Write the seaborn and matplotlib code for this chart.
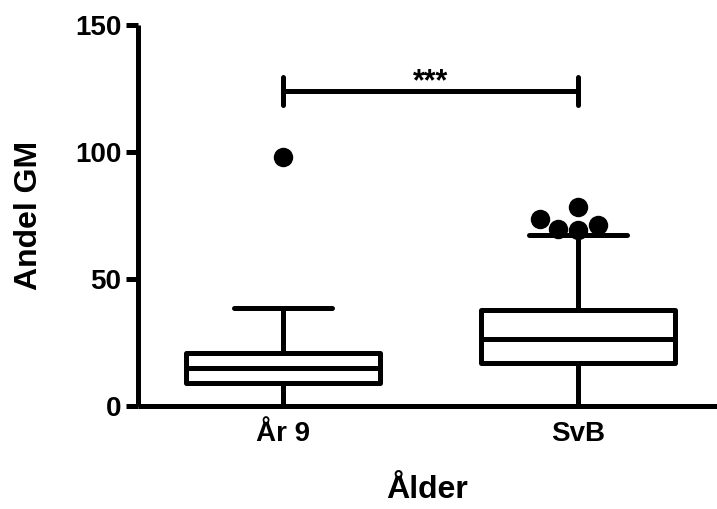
import numpy as np
import pandas as pd
import matplotlib
matplotlib.use("Agg")
import matplotlib.pyplot as plt
import seaborn as sns

# ---- data ----
categories = ["År 9", "SvB"]
ar9_values = [0, 4, 7, 9, 11, 13, 15, 17, 19, 21, 28, 38.6, 98]
svb_values = [0, 3, 6, 9, 12, 15, 17, 19, 20.5, 22, 23.5, 25, 26.5, 28, 30,
              32, 34, 36, 37.8, 67.5, 69.3, 69.6, 71.3, 73.6, 78.3]
y_ticks = [0, 50, 100, 150]
x_label = "Ålder"
y_label = "Andel GM"
sig_text = "***"
sig_level = 124

sns.set_theme(style="white")
plt.rcParams["font.family"] = ["Liberation Sans", "DejaVu Sans"]
plt.rcParams["font.weight"] = "bold"
plt.rcParams["text.color"] = "black"
plt.rcParams["axes.labelcolor"] = "black"
plt.rcParams["xtick.color"] = "black"
plt.rcParams["ytick.color"] = "black"

df = pd.DataFrame({
    "group": [categories[0]] * len(ar9_values) + [categories[1]] * len(svb_values),
    "value": ar9_values + svb_values,
})

# outliers via Tukey rule
def is_outlier(vals):
    v = np.asarray(vals, float)
    q1, q3 = np.percentile(v, [25, 75])
    iqr = q3 - q1
    return (v > q3 + 1.5 * iqr) | (v < q1 - 1.5 * iqr)

mask = np.concatenate([is_outlier(ar9_values), is_outlier(svb_values)])
df_out = df[mask]

fig = plt.figure(figsize=(7.17, 5.09), dpi=100)
ax = fig.add_axes([138 / 717, 103 / 509, 579 / 717, 381 / 509])

lw = 3.6
sns.boxplot(data=df, x="group", y="value", order=categories, ax=ax,
            color="white", linecolor="black", linewidth=lw, width=0.66,
            saturation=1, showfliers=False, whis=1.5)
for artist in ax.lines + ax.patches:
    artist.set_clip_on(False)
    try:
        artist.set_joinstyle("round")
    except Exception:
        pass

sns.swarmplot(data=df_out, x="group", y="value", order=categories, ax=ax,
              color="black", size=14, clip_on=False)

ax.set_ylim(0, 150)
ax.set_xlim(-0.4915, 1.471)
ax.set_yticks(y_ticks)
ax.set_yticklabels([str(t) for t in y_ticks], fontsize=20, fontweight="bold",
                   color="black")
ax.set_xticks(range(len(categories)))
ax.set_xticklabels(categories, fontsize=20, fontweight="bold", color="black")
ax.tick_params(axis="y", length=9, width=lw, color="black", pad=3, left=True)
ax.tick_params(axis="x", length=0, pad=11)

ax.set_xlabel(x_label, fontsize=23, fontweight="bold", labelpad=20,
              color="black")
ax.set_ylabel(y_label, fontsize=23, fontweight="bold", labelpad=22,
              color="black")

for side in ["top", "right"]:
    ax.spines[side].set_visible(False)
for side in ["left", "bottom"]:
    ax.spines[side].set_linewidth(lw)
    ax.spines[side].set_color("black")
    ax.spines[side].set_capstyle("butt")

# significance bracket
ax.plot([0, 1], [sig_level, sig_level], color="black", lw=lw,
        solid_capstyle="butt", clip_on=False)
for xc in [0, 1]:
    ax.plot([xc, xc], [sig_level - 5.5, sig_level + 5.5], color="black",
            lw=lw, solid_capstyle="round", clip_on=False)
ax.text(0.5, sig_level - 2.5, sig_text, ha="center", va="bottom",
        fontsize=22, fontweight="bold", color="black")

fig.savefig("out.png", dpi=100)
